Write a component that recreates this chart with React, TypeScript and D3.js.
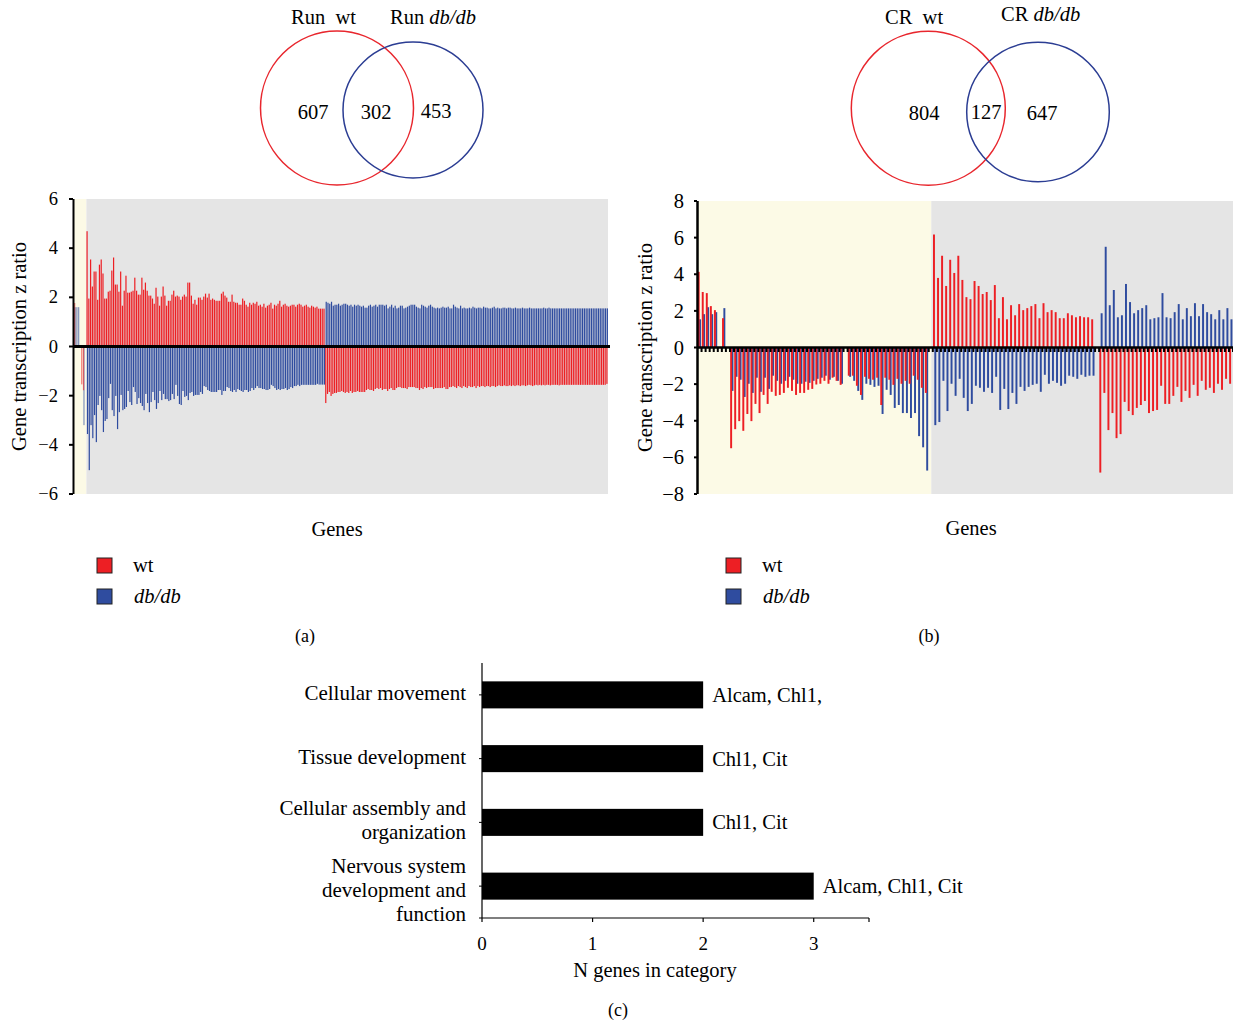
import React from "react";
import * as d3 from "d3";

// ---------------- DATA ----------------
// Venn diagrams
const vennA = { left: "wt", right: "db/db", prefix: "Run", onlyLeft: 607, both: 302, onlyRight: 453 };
const vennB = { left: "wt", right: "db/db", prefix: "CR", onlyLeft: 804, both: 127, onlyRight: 647 };

// Panel (a): yellow-shaded genes (7 categories)
const aYellowRed = [1.77, 0, 0, 0, -1.54, -1.78, 0];
const aYellowBlue = [1.6, 1.6, 1.6, 0, 0, -3.2, 0];
// Panel (a) section 1: wt up (red), db/db down (blue)
const aSec1Red = [
  4.69, 1.95, 3.54, 2.44, 3.05, 3.05, 1.9, 3.33, 3.54, 2.97,
  1.95, 1.95, 2.23, 2.27, 3.09, 3.62, 2.52, 2.52, 2.23, 3.05,
  1.66, 2.27, 2.88, 2.19, 2.19, 2.23, 2.27, 2.8, 2.27, 2.11,
  2.11, 2.8, 2.31, 2.6, 2.27, 2.07, 2.07, 1.95, 1.74, 2.39,
  2.03, 1.66, 2.03, 2.44, 2.07, 1.66, 1.86, 1.86, 2.11, 2.27,
  2.03, 2.07, 2.03, 1.9, 2.03, 2.11, 2.03, 2.6, 2.6, 2.07,
  1.74, 1.9, 1.7, 1.99, 1.99, 1.9, 2.03, 2.15, 1.99, 2.15,
  1.9, 1.95, 1.9, 1.86, 1.86, 1.86, 2.15, 2.23, 2.07, 1.99,
  1.82, 1.82, 2.11, 1.82, 1.78, 1.78, 1.7, 1.7, 1.95, 1.86,
  1.7, 1.62, 1.78, 1.7, 1.78, 1.74, 1.82, 1.66,
  1.7, 1.62, 1.74, 1.58, 1.66, 1.7, 1.78, 1.54, 1.7, 1.66,
  1.74, 1.86, 1.62, 1.7, 1.74, 1.66, 1.62, 1.66, 1.7, 1.7,
  1.62, 1.7, 1.74, 1.7, 1.62, 1.66, 1.7, 1.62, 1.58, 1.66,
  1.62, 1.58, 1.62, 1.54, 1.54, 1.54, 1.54,
];
const aSec1Blue = [
  -3.56, -5.03, -3.2, -3.73, -2.79, -3.89, -2.38, -2.01, -2.59, -3.48,
  -3.03, -2.95, -2.1, -1.52, -2.59, -2.83, -2.01, -3.36, -2.67, -1.97,
  -2.59, -2.54, -2.46, -1.81, -2.26, -2.38, -1.65, -1.85, -2.34, -2.1,
  -2.3, -2.42, -2.59, -1.93, -2.3, -2.67, -2.26, -1.85, -2.18, -2.54,
  -2.3, -1.81, -2.18, -1.93, -2.14, -2.14, -2.22, -2.18, -1.93, -2.14,
  -1.56, -2.01, -2.34, -2.38, -1.81, -2.05, -2.01, -2.18, -1.89, -1.85,
  -2.01, -1.97, -1.97, -1.97, -1.85, -1.93, -1.61, -1.65, -1.77, -1.81,
  -1.85, -1.85, -1.85, -1.85, -1.77, -1.77, -1.97, -1.81, -1.81, -1.65,
  -1.69, -1.81, -1.85, -1.77, -1.85, -1.73, -1.77, -1.81, -1.85, -1.77,
  -1.77, -1.85, -1.81, -1.69, -1.77, -1.69, -1.61, -1.69, -1.69, -1.73,
  -1.73, -1.77, -1.77, -1.73, -1.56, -1.61, -1.69, -1.77, -1.73, -1.77,
  -1.73, -1.73, -1.69, -1.77, -1.73, -1.65, -1.69, -1.61, -1.61, -1.56,
  -1.61, -1.56, -1.56, -1.56, -1.56, -1.56, -1.56, -1.56, -1.56, -1.56,
  -1.52, -1.55, -1.55, -1.55, -1.55,
];
// Panel (a) section 2: db/db up (blue), wt down (red)
const aSec2Blue = [
  1.82, 1.78, 1.74, 1.82, 1.66, 1.7, 1.7, 1.74, 1.66, 1.7,
  1.74, 1.74, 1.7, 1.66, 1.7, 1.62, 1.7, 1.66, 1.7, 1.66,
  1.62, 1.66, 1.58, 1.58, 1.66, 1.7, 1.62, 1.66, 1.7, 1.62,
  1.7, 1.7, 1.7, 1.66, 1.7, 1.55, 1.62, 1.7, 1.58, 1.66,
  1.55, 1.58, 1.66, 1.66, 1.55, 1.58, 1.62, 1.66, 1.7, 1.7,
  1.7, 1.62, 1.58, 1.55, 1.7, 1.66, 1.62, 1.58, 1.66, 1.7,
  1.62, 1.58, 1.55, 1.58, 1.55, 1.58, 1.62, 1.58, 1.58, 1.62,
  1.55, 1.55, 1.7, 1.62, 1.58, 1.55, 1.66, 1.55, 1.58, 1.55,
  1.55, 1.58, 1.55, 1.62, 1.58, 1.55, 1.58, 1.58, 1.55, 1.62,
  1.58, 1.58, 1.55, 1.55, 1.58, 1.62, 1.55, 1.58, 1.55, 1.55,
  1.58, 1.58, 1.55, 1.58, 1.58, 1.55, 1.55, 1.58, 1.55, 1.55,
  1.55, 1.58, 1.55, 1.55, 1.55, 1.58, 1.55, 1.55, 1.55, 1.55,
  1.55, 1.55, 1.55, 1.58, 1.55, 1.55, 1.58, 1.55, 1.55, 1.55,
  1.55, 1.55, 1.55, 1.55, 1.55, 1.55, 1.55, 1.55, 1.55, 1.55,
  1.55, 1.55, 1.55, 1.55, 1.55, 1.55, 1.55, 1.55, 1.55, 1.55,
  1.55, 1.55, 1.55, 1.55, 1.55, 1.55, 1.55, 1.55, 1.55, 1.55,
];
const aSec2Red = [
  -2.3, -1.93, -1.85, -2.01, -1.93, -1.89, -1.89, -1.85, -1.85, -1.81,
  -1.85, -1.89, -1.85, -1.89, -1.81, -1.89, -1.85, -1.85, -1.81, -1.85,
  -1.85, -1.85, -1.85, -1.77, -1.73, -1.77, -1.77, -1.81, -1.73, -1.69,
  -1.73, -1.69, -1.77, -1.73, -1.73, -1.81, -1.73, -1.69, -1.77, -1.77,
  -1.69, -1.65, -1.65, -1.69, -1.69, -1.69, -1.73, -1.65, -1.65, -1.65,
  -1.65, -1.69, -1.69, -1.77, -1.69, -1.73, -1.65, -1.69, -1.65, -1.65,
  -1.65, -1.73, -1.69, -1.69, -1.69, -1.69, -1.69, -1.65, -1.73, -1.73,
  -1.65, -1.65, -1.61, -1.65, -1.69, -1.61, -1.65, -1.69, -1.61, -1.65,
  -1.69, -1.61, -1.65, -1.65, -1.61, -1.69, -1.61, -1.65, -1.61, -1.61,
  -1.65, -1.61, -1.61, -1.65, -1.61, -1.61, -1.65, -1.61, -1.58, -1.61,
  -1.61, -1.58, -1.61, -1.61, -1.58, -1.61, -1.58, -1.61, -1.58, -1.58,
  -1.61, -1.58, -1.58, -1.61, -1.58, -1.56, -1.58, -1.61, -1.58, -1.56,
  -1.58, -1.56, -1.58, -1.56, -1.58, -1.56, -1.56, -1.58, -1.56, -1.56,
  -1.56, -1.56, -1.58, -1.56, -1.56, -1.56, -1.56, -1.56, -1.56, -1.56,
  -1.56, -1.56, -1.56, -1.56, -1.56, -1.56, -1.56, -1.56, -1.56, -1.56,
  -1.56, -1.56, -1.56, -1.56, -1.56, -1.56, -1.56, -1.56, -1.56, -1.52,
];
const aTicks = [6, 4, 2, 0, -2, -4, -6];

// Panel (b): yellow-shaded genes
const bYUpRed = [4.13, 3.03, 2.97, 2.26, 2.04, 0, 1.6, 0];
const bYUpBlue = [1.54, 1.82, 2.2, 1.82, 1.93, 0, 2.15, 0];
const bYDownRed = [
  -5.5, -4.46, -4.02, -4.55, -3.63, -4.02, -3.08, -3.58, -2.59, -3.08,
  -2.42, -2.64, -2.59, -2.48, -2.2, -2.37, -2.59, -2.48, -2.48, -2.31,
  -2.26, -2.02, -1.98, -1.82, -1.98, -1.65, -1.82, -2.04, 0, -1.54,
  -1.54, -2.09, -2.59, -1.6, -1.71, -1.76, -1.65, -3.14, -1.65, -1.76,
  -2.04, -1.71, -1.98, -1.82, -1.98, -1.54, -1.76, -2.2, -2.48, 0,
];
const bYDownBlue = [
  -2.37, -1.6, -1.76, -2.7, -1.98, -2.48, -1.65, -2.42, -1.65, -2.26,
  -1.54, -1.82, -1.98, -1.82, -1.6, -1.76, -1.98, -1.98, -1.87, -1.93,
  -1.82, -1.71, -1.65, -1.54, -1.76, -1.6, -1.82, -1.98, 0, -1.6,
  -1.82, -2.37, -2.86, -1.98, -2.04, -2.15, -2.09, -3.63, -2.31, -2.59,
  -3.3, -3.14, -3.58, -3.58, -3.85, -3.58, -4.84, -5.45, -6.72, 0,
];
// Panel (b) gray section 1: wt up, db/db down
const bG1Red = [
  6.17, 3.8, 5.01, 3.36, 4.79, 4.07, 5.01, 3.69, 2.75, 2.64,
  3.63, 3.36, 2.92, 3.03, 2.59, 3.41, 1.6, 2.75, 1.54, 2.31,
  1.76, 2.37, 2.04, 2.15, 2.26, 2.37, 1.6, 2.42, 1.93, 2.04,
  1.93, 1.6, 1.6, 1.87, 1.76, 1.65, 1.71, 1.65, 1.65, 1.54, 0,
];
const bG1Blue = [
  -4.24, -4.07, -1.82, -3.47, -1.98, -2.64, -1.71, -2.75, -3.47, -3.08,
  -2.09, -2.2, -2.42, -2.2, -2.48, -1.6, -3.41, -2.26, -3.36, -2.48,
  -3.08, -2.15, -2.37, -2.15, -2.04, -1.98, -2.42, -1.49, -1.98, -1.82,
  -1.93, -2.09, -1.98, -1.54, -1.6, -1.71, -1.49, -1.6, -1.54, -1.54, 0,
];
// Panel (b) gray section 2: db/db up, wt down
const bG2Blue = [
  1.87, 5.5, 2.31, 3.14, 1.65, 1.76, 3.47, 2.48, 1.87, 2.04,
  2.15, 2.31, 1.54, 1.6, 1.65, 2.97, 1.65, 1.6, 1.93, 2.37,
  1.54, 2.15, 1.71, 2.42, 1.71, 2.37, 1.93, 1.82, 1.54, 2.04,
  1.54, 2.15, 1.54,
];
const bG2Red = [
  -6.83, -2.48, -4.51, -3.58, -4.95, -4.73, -2.97, -3.47, -3.69, -3.3,
  -3.14, -2.92, -3.58, -3.47, -3.41, -2.09, -3.08, -3.08, -2.64, -2.15,
  -2.97, -2.37, -2.75, -2.04, -2.64, -1.82, -2.31, -2.2, -2.48, -1.98,
  -2.31, -1.71, -1.98,
];
const bTicks = [8, 6, 4, 2, 0, -2, -4, -6, -8];

// Panel (c)
const cCategories = [
  ["Cellular movement"],
  ["Tissue development"],
  ["Cellular assembly and", "organization"],
  ["Nervous system", "development and", "function"],
];
const cValues = [2, 2, 2, 3];
const cGenes = ["Alcam, Chl1,", "Chl1, Cit", "Chl1, Cit", "Alcam, Chl1, Cit"];
const cTicks = [0, 1, 2, 3];

// ---------------- STYLE ----------------
const RED = "#ed1f24";
const BLUE = "#2f4c9f";
const VRED = "#e8262d";
const VBLUE = "#2b3d93";
const GRAY = "#e5e5e5";
const YEL = "#fcfae6";
const FONT = "'Liberation Serif', 'DejaVu Serif', serif";

function Bars({ red, blue, x, y, dim, w, off }: any) {
  const step = x.step();
  const y0 = y(0);
  const out: any[] = [];
  red.forEach((v: number, i: number) => {
    const b = blue[i];
    const op = dim && dim(i) ? 0.6 : 1;
    if (b) {
      const yy = y(b);
      out.push(
        <rect key={"b" + i} x={x(i) + step * off} width={step * w} y={Math.min(yy, y0)} height={Math.abs(yy - y0)} fill={BLUE} opacity={op} />
      );
    }
    if (v) {
      const yy = y(v);
      out.push(
        <rect key={"r" + i} x={x(i) + step * 0.05} width={step * w} y={Math.min(yy, y0)} height={Math.abs(yy - y0)} fill={RED} opacity={op} />
      );
    }
  });
  return <g>{out}</g>;
}

function Legend({ x, y }: { x: number; y: number }) {
  return (
    <g fontFamily={FONT} fontSize={20.5}>
      <rect x={x} y={y} width={15} height={15} fill={RED} stroke="#222" strokeWidth={1} />
      <text x={x + 36} y={y + 14}>wt</text>
      <rect x={x} y={y + 31} width={15} height={15} fill={BLUE} stroke="#222" strokeWidth={1} />
      <text x={x + 37} y={y + 45} fontStyle="italic">db/db</text>
    </g>
  );
}

function Venn({ v, lc, rc, lx, ly, rx, ry, nums }: any) {
  return (
    <g fontFamily={FONT} fontSize={20.5}>
      <ellipse cx={lc[0]} cy={lc[1]} rx={lc[2]} ry={lc[3]} fill="none" stroke={VRED} strokeWidth={1.5} />
      <ellipse cx={rc[0]} cy={rc[1]} rx={rc[2]} ry={rc[3]} fill="none" stroke={VBLUE} strokeWidth={1.5} />
      <text x={lx} y={ly} style={{ whiteSpace: "pre" }}>{v.prefix + "  " + v.left}</text>
      <text x={rx} y={ry} style={{ whiteSpace: "pre" }}>
        {v.prefix + " "}
        <tspan fontStyle="italic">{v.right}</tspan>
      </text>
      <text x={nums[0][0]} y={nums[0][1]} textAnchor="middle">{v.onlyLeft}</text>
      <text x={nums[1][0]} y={nums[1][1]} textAnchor="middle">{v.both}</text>
      <text x={nums[2][0]} y={nums[2][1]} textAnchor="middle">{v.onlyRight}</text>
    </g>
  );
}

export default function App() {
  // ----- panel a -----
  const aRed = [...aYellowRed, ...aSec1Red, ...aSec2Red];
  const aBlue = [...aYellowBlue, ...aSec1Blue, ...aSec2Blue];
  const xa = d3.scaleBand<number>().domain(d3.range(aRed.length)).range([74, 608]);
  const ya = d3.scaleLinear().domain([-6, 6]).range([494, 199]);
  const aYelEnd = xa(aYellowRed.length) as number;

  // ----- panel b -----
  const bRed = [...bYUpRed, ...bYDownRed, ...bG1Red, ...bG2Red];
  const bBlue = [...bYUpBlue, ...bYDownBlue, ...bG1Blue, ...bG2Blue];
  const xb = d3.scaleBand<number>().domain(d3.range(bRed.length)).range([697.5, 1233]);
  const yb = d3.scaleLinear().domain([-8, 8]).range([494, 201]);
  const bYelEnd = (xb(bYUpRed.length + bYDownRed.length) as number) - 1.5;

  // ----- panel c -----
  const xc = d3.scaleLinear().domain([0, 3.5]).range([482, 869]);
  const yc = d3.scaleBand<number>().domain(d3.range(cValues.length)).range([663, 918]).paddingInner(0.576).paddingOuter(0.288);

  return (
    <svg width={1233} height={1022} style={{ position: "absolute", left: 0, top: 0, background: "#fff" }} fontFamily={FONT}>
      {/* Venns */}
      <Venn v={vennA} lc={[337, 108, 76.5, 77]} rc={[413, 110, 70, 68]} lx={291} ly={24} rx={390} ry={24}
        nums={[[313, 119], [376, 119], [436, 118]]} />
      <Venn v={vennB} lc={[928.3, 108.3, 77, 77]} rc={[1038, 112, 71.3, 69.7]} lx={885} ly={24} rx={1001} ry={21}
        nums={[[924, 120], [986, 119], [1042, 120]]} />

      {/* ---------- panel a ---------- */}
      <rect x={74} y={199} width={aYelEnd - 74} height={295} fill={YEL} />
      <rect x={aYelEnd} y={199} width={608 - aYelEnd} height={295} fill={GRAY} />
      <Bars red={aRed} blue={aBlue} x={xa} y={ya} w={0.68} off={0.3} dim={(i: number) => i < aYellowRed.length} />
      <line x1={73} x2={610} y1={ya(0)} y2={ya(0)} stroke="#000" strokeWidth={3} />
      <line x1={73.5} x2={73.5} y1={199} y2={494} stroke="#000" strokeWidth={2} />
      {aTicks.map((t) => (
        <g key={t}>
          <line x1={69} x2={73} y1={ya(t)} y2={ya(t)} stroke="#000" strokeWidth={2} />
          <text x={58} y={ya(t)} textAnchor="end" dominantBaseline="central" fontSize={18.5}>
            {t < 0 ? "\u2212" + Math.abs(t) : t}
          </text>
        </g>
      ))}
      <text transform={`translate(26,${ya(0)}) rotate(-90)`} textAnchor="middle" fontSize={20.5}>Gene transcription z ratio</text>
      <text x={337} y={536} textAnchor="middle" fontSize={20.5}>Genes</text>
      <Legend x={97} y={558} />
      <text x={305} y={642} textAnchor="middle" fontSize={18}>(a)</text>

      {/* ---------- panel b ---------- */}
      <rect x={697.5} y={201} width={bYelEnd - 697.5} height={293} fill={YEL} />
      <rect x={bYelEnd} y={201} width={1233 - bYelEnd} height={293} fill={GRAY} />
      <Bars red={bRed} blue={bBlue} x={xb} y={yb} w={0.48} off={0.38} />
      <line x1={697} x2={1233} y1={yb(0)} y2={yb(0)} stroke="#000" strokeWidth={2.5} />
      {d3.range(1, bRed.length + 1).map((i) => (
        <rect key={i} x={(xb(0) as number) + i * xb.step() - 1} y={yb(0)} width={2} height={4.5} fill="#000" />
      ))}
      <line x1={697.5} x2={697.5} y1={201} y2={494} stroke="#000" strokeWidth={2.5} />
      {bTicks.map((t) => (
        <g key={t}>
          <line x1={694} x2={697} y1={yb(t)} y2={yb(t)} stroke="#000" strokeWidth={2} />
          <text x={684} y={yb(t)} textAnchor="end" dominantBaseline="central" fontSize={20.5}>
            {t < 0 ? "\u2212" + Math.abs(t) : t}
          </text>
        </g>
      ))}
      <text transform={`translate(652,${yb(0)}) rotate(-90)`} textAnchor="middle" fontSize={20.5}>Gene transcription z ratio</text>
      <text x={971} y={535} textAnchor="middle" fontSize={20.5}>Genes</text>
      <Legend x={726} y={558} />
      <text x={929} y={642} textAnchor="middle" fontSize={18}>(b)</text>

      {/* ---------- panel c ---------- */}
      {cValues.map((v, i) => {
        const mid = (yc(i) as number) + yc.bandwidth() / 2;
        const n = cCategories[i].length;
        const shift = n === 3 ? 4 : -2;
        return (
          <g key={i}>
            <rect x={xc(0)} y={yc(i) as number} width={xc(v) - xc(0)} height={yc.bandwidth()} fill="#000" />
            <text x={xc(v) + 9} y={mid} dominantBaseline="central" fontSize={20.5}>{cGenes[i]}</text>
            {cCategories[i].map((line, j) => (
              <text key={j} x={466} y={mid + shift + (j - (n - 1) / 2) * 24}
                textAnchor="end" dominantBaseline="central" fontSize={21}>{line}</text>
            ))}
            <line x1={479} x2={482} y1={mid} y2={mid} stroke="#000" strokeWidth={1} />
          </g>
        );
      })}
      <line x1={482} x2={482} y1={663} y2={918} stroke="#000" strokeWidth={1.2} />
      <line x1={479} x2={869} y1={918} y2={918} stroke="#000" strokeWidth={1.2} />
      {[...cTicks, 3.5].map((t) => (
        <line key={t} x1={xc(t)} x2={xc(t)} y1={918} y2={922} stroke="#000" strokeWidth={1.2} />
      ))}
      {cTicks.map((t) => (
        <text key={t} x={xc(t)} y={943} textAnchor="middle" dominantBaseline="central" fontSize={19}>{t}</text>
      ))}
      <text x={655} y={977} textAnchor="middle" fontSize={20.5}>N genes in category</text>
      <text x={618} y={1016} textAnchor="middle" fontSize={18}>(c)</text>
    </svg>
  );
}
